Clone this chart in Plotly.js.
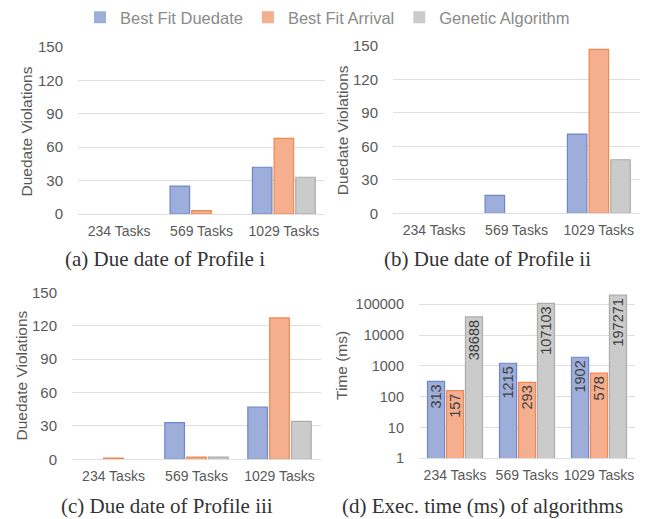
<!DOCTYPE html>
<html>
<head>
<meta charset="utf-8">
<script src="https://cdn.plot.ly/plotly-3.0.1.min.js"></script>
<style>html,body{margin:0;padding:0;background:#fff;}#chart{width:655px;height:519px;}</style>
</head>
<body>
<div id="chart"></div>
<script>
// ---- data ----
const categories = ["234 Tasks", "569 Tasks", "1029 Tasks"];
const seriesNames = ["Best Fit Duedate", "Best Fit Arrival", "Genetic Algorithm"];

// (a) Due date of Profile i
const profileI_duedate = [0, 25, 42];
const profileI_arrival = [0, 3, 68];
const profileI_genetic = [0, 0, 33];

// (b) Due date of Profile ii
const profileII_duedate = [0, 16, 71];
const profileII_arrival = [0, 0, 147];
const profileII_genetic = [0, 0, 48];

// (c) Due date of Profile iii
const profileIII_duedate = [0, 33, 47];
const profileIII_arrival = [1, 2, 127];
const profileIII_genetic = [0, 2, 34];

// (d) Exec. time (ms)
const time_duedate = [313, 1215, 1902];
const time_arrival = [157, 293, 578];
const time_genetic = [38688, 107103, 197271];

const violationTicks = [0, 30, 60, 90, 120, 150];
const timeTicks = [1, 10, 100, 1000, 10000, 100000];
const timeTickText = ["1", "10", "100", "1000", "10000", "100000"];

const captions = ["(a) Due date of Profile i", "(b) Due date of Profile ii",
                  "(c) Due date of Profile iii", "(d) Exec. time (ms) of algorithms"];
const yTitles = ["Duedate Violations", "Duedate Violations", "Duedate Violations", "Time (ms)"];

// ---- styles ----
const fills = ["#9eaedb", "#f5ae8e", "#cbcbcb"];
const lines = ["#6e86cb", "#ef8a4f", "#acacac"];
const tickColor = "#595959";
const gridColor = "#dedede";
const sans = "Liberation Sans, Arial, sans-serif";

function bars(vals, i, xa, ya, withText) {
  const t = {
    type: "bar", x: categories, y: vals, name: seriesNames[i],
    xaxis: xa, yaxis: ya, legendgroup: seriesNames[i],
    showlegend: xa === "x",
    marker: {color: fills[i],
             line: {color: lines[i], width: vals.map(v => (v > 0 ? 1.2 : 0))}},
    hoverinfo: "x+y"
  };
  if (withText) {
    t.text = vals.map(String);
    t.textposition = "inside";
    t.insidetextanchor = "end";
    t.textangle = -90;
    t.constraintext = "none";
    t.textfont = {family: sans, size: 14.5, color: "#404040"};
  }
  return t;
}

const data = [
  bars(profileI_duedate, 0, "x", "y"),
  bars(profileI_arrival, 1, "x", "y"),
  bars(profileI_genetic, 2, "x", "y"),
  bars(profileII_duedate, 0, "x2", "y2"),
  bars(profileII_arrival, 1, "x2", "y2"),
  bars(profileII_genetic, 2, "x2", "y2"),
  bars(profileIII_duedate, 0, "x3", "y3"),
  bars(profileIII_arrival, 1, "x3", "y3"),
  bars(profileIII_genetic, 2, "x3", "y3"),
  bars(time_duedate, 0, "x4", "y4", true),
  bars(time_arrival, 1, "x4", "y4", true),
  bars(time_genetic, 2, "x4", "y4", true)
];

function xAxis(domain, anchor) {
  return {domain: domain, anchor: anchor, showline: true, linecolor: gridColor, linewidth: 1,
          ticks: "", showgrid: false, zeroline: false, fixedrange: true,
          tickfont: {family: sans, size: 14, color: tickColor}, ticklabelstandoff: 4};
}
function yAxisLin(domain, anchor) {
  return {domain: domain, anchor: anchor, range: [0, 150], tickvals: violationTicks,
          showgrid: true, gridcolor: gridColor, gridwidth: 1, zeroline: false, showline: false,
          ticks: "", fixedrange: true, ticklabelstandoff: 14,
          tickfont: {family: sans, size: 15, color: tickColor}};
}

const layout = {
  width: 655, height: 519,
  margin: {l: 0, r: 0, t: 0, b: 0},
  paper_bgcolor: "#ffffff", plot_bgcolor: "#ffffff",
  barmode: "group", bargap: 0.21, bargroupgap: 0.1,
  showlegend: true,
  legend: {orientation: "h", x: 0.5, xanchor: "center", y: 1.0, yanchor: "top",
           font: {family: sans, size: 16.5, color: "#8a8a8a"}, traceorder: "normal",
           itemclick: false, itemdoubleclick: false},
  xaxis: xAxis([0.1191, 0.4962], "y"),
  yaxis: yAxisLin([0.5877, 0.9094], "x"),
  xaxis2: xAxis([0.6000, 0.9771], "y2"),
  yaxis2: yAxisLin([0.5890, 0.9114], "x2"),
  xaxis3: xAxis([0.1099, 0.4901], "y3"),
  yaxis3: yAxisLin([0.1150, 0.4368], "x3"),
  xaxis4: xAxis([0.6397, 0.9695], "y4"),
  yaxis4: {domain: [0.1170, 0.4345], anchor: "x4", type: "log", range: [0, 5.35],
           tickvals: timeTicks, ticktext: timeTickText,
           showgrid: true, gridcolor: gridColor, gridwidth: 1, zeroline: false, showline: false,
           ticks: "", fixedrange: true, ticklabelstandoff: 14,
           tickfont: {family: sans, size: 14.5, color: tickColor}},
  annotations: []
};

const yTitlePos = [[0.0408, 0.7462], [0.5226, 0.7495], [0.0331, 0.2759], [0.5206, 0.2967]];
yTitles.forEach((t, i) => layout.annotations.push({
  text: t, xref: "paper", yref: "paper", x: yTitlePos[i][0], y: yTitlePos[i][1],
  xanchor: "center", yanchor: "middle", textangle: -90, showarrow: false,
  font: {family: sans, size: 15.5, color: tickColor}
}));

const capPos = [[0.2519, 0.5010], [0.7443, 0.5010], [0.2550, 0.0250], [0.7374, 0.0250]];
captions.forEach((t, i) => layout.annotations.push({
  text: t, xref: "paper", yref: "paper", x: capPos[i][0], y: capPos[i][1],
  xanchor: "center", yanchor: "middle", showarrow: false,
  font: {family: "Liberation Serif, Times New Roman, serif", size: 21, color: "#333333"}
}));

Plotly.newPlot("chart", data, layout, {displayModeBar: false, staticPlot: true});
</script>
</body>
</html>
